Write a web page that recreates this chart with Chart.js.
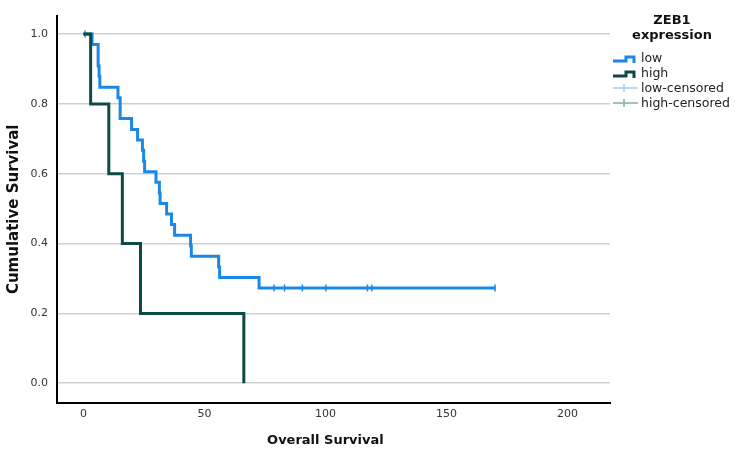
<!DOCTYPE html>
<html>
<head>
<meta charset="utf-8">
<script src="https://cdn.jsdelivr.net/npm/chart.js@4/dist/chart.umd.min.js"></script>
<style>
  html, body { margin: 0; padding: 0; background: #ffffff; }
  #wrap { width: 735px; height: 454px; }
</style>
</head>
<body>
<div id="wrap"><canvas id="c" width="735" height="454"></canvas></div>
<script>
// ---- data ----
const lowTime = [0, 3.6, 6.1, 6.5, 6.8, 14.3, 15.2, 19.9, 22.4, 24.4, 24.9, 25.3, 30.0, 31.4, 31.7, 34.4, 36.4, 37.7, 44.3, 44.6, 55.9, 56.3, 72.6, 170.1];
const lowSurv = [1.0, 0.970, 0.909, 0.879, 0.848, 0.818, 0.758, 0.727, 0.697, 0.667, 0.636, 0.606, 0.576, 0.545, 0.515, 0.485, 0.455, 0.424, 0.394, 0.364, 0.333, 0.303, 0.273, 0.273];
const highTime = [0, 3.0, 10.5, 16.1, 23.6, 66.3];
const highSurv = [1.0, 0.8, 0.6, 0.4, 0.2, 0.0];
const lowCensTime = [0.7, 78.8, 83.1, 90.5, 100.2, 117.4, 119.2, 170.1];
const lowCensSurv = [1.0, 0.273, 0.273, 0.273, 0.273, 0.273, 0.273, 0.273];
const highCensTime = [];
const highCensSurv = [];
const xTicks = [0, 50, 100, 150, 200];
const yTicks = [0, 0.2, 0.4, 0.6, 0.8, 1.0];
const legendTitle = ['ZEB1', 'expression'];
const legendLabels = ['low', 'high', 'low-censored', 'high-censored'];

const BLUE = '#1b88e6';
const DARK = '#0c4a45';
const LBLUE = '#9fd1f8';
const LTEAL = '#7fb0a9';

const toPts = (t, s) => t.map((v, i) => ({x: v, y: s[i]}));

const legendPlugin = {
  id: 'kmLegend',
  afterDraw(chart) {
    const ctx = chart.ctx;
    ctx.save();
    ctx.fillStyle = '#111';
    ctx.textAlign = 'center';
    ctx.textBaseline = 'middle';
    ctx.font = 'bold 13px "DejaVu Sans"';
    ctx.fillText(legendTitle[0], 672, 21);
    ctx.fillText(legendTitle[1], 672, 36);
    ctx.textAlign = 'left';
    ctx.font = '12.5px "DejaVu Sans"';
    const ys = [59, 74, 89, 104];
    legendLabels.forEach((lab, i) => {
      ctx.fillStyle = '#222';
      ctx.fillText(lab, 641, ys[i]);
    });
    // step icons
    [[BLUE, 61], [DARK, 76]].forEach(([col, y]) => {
      ctx.strokeStyle = col; ctx.lineWidth = 3; ctx.lineJoin = 'miter';
      ctx.beginPath();
      ctx.moveTo(613, y); ctx.lineTo(626, y); ctx.lineTo(626, y - 4);
      ctx.lineTo(634, y - 4); ctx.lineTo(634, y + 2);
      ctx.stroke();
    });
    // censored icons
    [[LBLUE, 88], [LTEAL, 103]].forEach(([col, y]) => {
      ctx.strokeStyle = col; ctx.lineWidth = 1.5;
      ctx.beginPath();
      ctx.moveTo(613, y); ctx.lineTo(638, y);
      ctx.moveTo(624, y - 4); ctx.lineTo(624, y + 4);
      ctx.stroke();
    });
    // x title centered as in reference
    const xs = chart.scales.x;
    ctx.fillStyle = '#111';
    ctx.textAlign = 'center';
    ctx.font = 'bold 13px "DejaVu Sans"';
    ctx.fillText('Overall Survival', xs.getPixelForValue(100), 441);
    ctx.restore();
  }
};

new Chart(document.getElementById('c'), {
  data: {
    datasets: [
      { type: 'line', label: 'high', data: toPts(highTime, highSurv), stepped: 'before',
        borderColor: DARK, borderWidth: 3, pointRadius: 0, fill: false },
      { type: 'scatter', label: 'high-censored', data: toPts(highCensTime, highCensSurv),
        pointStyle: 'line', rotation: 90, pointRadius: 3.5, borderColor: DARK, borderWidth: 1.5 },
      { type: 'scatter', label: 'low-censored', data: toPts(lowCensTime, lowCensSurv),
        pointStyle: 'line', rotation: 90, pointRadius: 3.5, borderColor: BLUE, backgroundColor: BLUE, borderWidth: 1.5 },
      { type: 'line', label: 'low', data: toPts(lowTime, lowSurv), stepped: 'before',
        borderColor: BLUE, borderWidth: 3, pointRadius: 0, fill: false }
    ]
  },
  options: {
    responsive: false,
    animation: false,
    events: [],
    layout: { padding: { top: 5, right: 125, left: 0, bottom: 0 } },
    plugins: { legend: { display: false }, tooltip: { enabled: false } },
    scales: {
      x: {
        type: 'linear', min: -10.9, max: 217.6,
        afterBuildTicks: (s) => { s.ticks = xTicks.map(v => ({value: v})); },
        afterFit: (s) => { s.height = 51; },
        grid: { display: false, drawTicks: false },
        border: { display: true, color: '#000', width: 2 },
        ticks: { padding: 5, color: '#333', font: { family: '"DejaVu Sans"', size: 11 }, maxRotation: 0 },
        title: { display: false }
      },
      y: {
        type: 'linear', min: -0.0566, max: 1.053,
        afterBuildTicks: (s) => { s.ticks = yTicks.map(v => ({value: v})); },
        afterFit: (s) => { s.width = 57; },
        grid: { display: true, drawTicks: false, color: '#cfcfcf', lineWidth: 1.5 },
        border: { display: true, color: '#000', width: 2 },
        ticks: { padding: 9, color: '#333', font: { family: '"DejaVu Sans"', size: 11 },
                 callback: (v) => Number(v).toFixed(1) },
        title: { display: true, text: 'Cumulative Survival', color: '#111',
                 font: { family: '"DejaVu Sans"', size: 15, weight: 'bold' }, padding: { top: 5, bottom: 0 } }
      }
    }
  },
  plugins: [legendPlugin]
});
</script>
</body>
</html>
